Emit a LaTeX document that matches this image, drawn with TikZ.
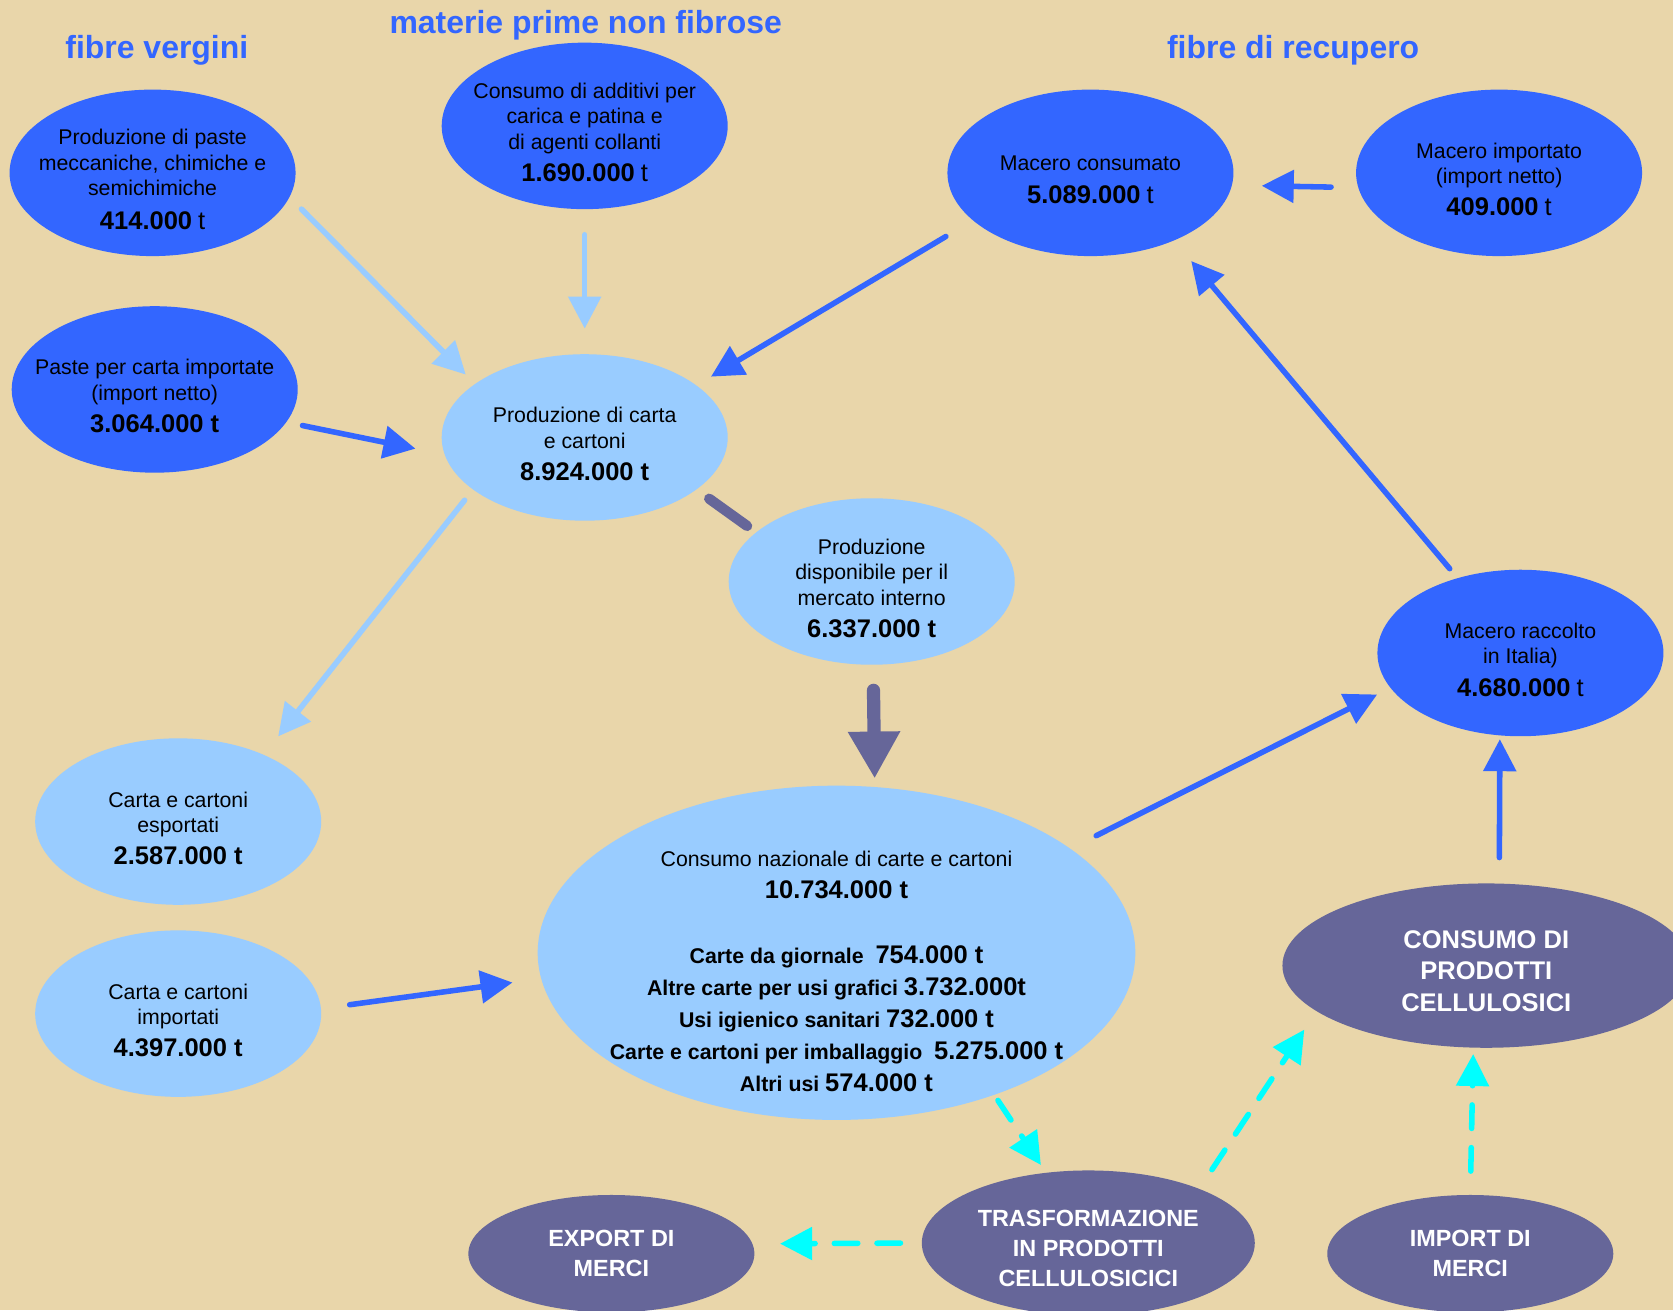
\documentclass[tikz,border=0pt]{standalone}
\usepackage{fontspec}
\setmainfont{Liberation Sans}
\usetikzlibrary{shapes.geometric,arrows.meta}

\definecolor{deepblue}{HTML}{3366FF}
\definecolor{paleblue}{HTML}{99CCFF}
\definecolor{greyviolet}{HTML}{666699}
\definecolor{aquacyan}{HTML}{00FFFF}
\definecolor{parchment}{HTML}{E9D6AA}

\newcommand{\amount}[1]{{\fontsize{17}{20}\selectfont\bfseries #1}}
\newcommand{\tons}{{\fontsize{17}{20}\selectfont t}}
\newcommand{\lowerstrut}{\rule{0pt}{0.67cm}}

\begin{document}
\begin{tikzpicture}[x=0.025cm,y=-0.025cm]
\tikzset{
base node/.style={ellipse,inner sep=-2cm,outer sep=0pt,align=center,minimum width=6.7cm,minimum height=3.9cm,font=\fontsize{14.2}{17}\selectfont},
dark node/.style={base node,fill=deepblue},
light node/.style={base node,fill=paleblue},
violet node/.style={base node,fill=greyviolet,text=white,font=\fontsize{15.6}{19.9}\selectfont\bfseries},
title text/.style={text=deepblue,font=\fontsize{21.3}{25}\selectfont\bfseries},
thin arrow/.style={line width=0.13cm,line cap=round,-{Triangle[length=0.75cm,width=0.75cm]}},
light arrow/.style={thin arrow,paleblue},
dark arrow/.style={thin arrow,deepblue},
dashed arrow/.style={thin arrow,aquacyan,dash pattern=on 0.55cm off 0.45cm},
big arrow/.style={line width=0.31cm,line cap=round,greyviolet,-{Triangle[length=1.1cm,width=1.15cm]}},
bar line/.style={line width=0.24cm,line cap=round,greyviolet}
}

\useasboundingbox (0,0) rectangle (1568,1228);
\clip (0,0) rectangle (1568,1228);
\fill[parchment] (0,0) rectangle (1568,1228);

% titles
\node[title text] (vergini) at (147,47) {fibre vergini};
\node[title text] (nonfibrose) at (549,24) {materie prime non fibrose};
\node[title text] (recupero) at (1212,47) {fibre di recupero};

% fibre vergini and additives
\node[dark node] (paste) at (143,162) {\lowerstrut Produzione di paste\\meccaniche, chimiche e\\semichimiche\\[0.18cm]\amount{414.000} \tons};
\node[dark node] (additivi) at (548,118) {\lowerstrut Consumo di additivi per\\carica e patina e\\di agenti collanti\\[0.16cm]\amount{1.690.000} \tons};
\node[dark node] (importpaste) at (145,365) {\lowerstrut Paste per carta importate\\(import netto)\\[0.15cm]\amount{3.064.000 t}};
\node[light node] (carta) at (548,410) {\lowerstrut Produzione di carta\\e cartoni\\[0.16cm]\amount{8.924.000 t}};

% recovered fibres
\node[dark node] (maceroc) at (1022,162) {\lowerstrut Macero consumato\\[0.16cm]\amount{5.089.000} \tons};
\node[dark node] (maceroi) at (1405,162) {\lowerstrut Macero importato\\(import netto)\\[0.15cm]\amount{409.000} \tons};
\node[dark node] (maceror) at (1425,612) {\lowerstrut Macero raccolto\\in Italia)\\[0.16cm]\amount{4.680.000} \tons};

\node[light node] (disponibile) at (817,545) {\lowerstrut Produzione\\disponibile per il\\mercato interno\\[0.15cm]\amount{6.337.000 t}};
\node[light node] (esportati) at (167,770) {\lowerstrut Carta e cartoni\\esportati\\[0.15cm]\amount{2.587.000 t}};
\node[light node] (importati) at (167,950) {\lowerstrut Carta e cartoni\\importati\\[0.15cm]\amount{4.397.000 t}};

\node[light node,minimum width=14cm,minimum height=7.83cm,font=\fontsize{14.2}{21.3}\selectfont] (consumo) at (784,893)
  {\rule{0pt}{1.22cm}Consumo nazionale di carte e cartoni\\\amount{10.734.000 t}\\[0.78cm]
   \textbf{Carte da giornale}~ \amount{754.000 t}\\
   \textbf{Altre carte per usi grafici} \amount{3.732.000t}\\
   \textbf{Usi igienico sanitari} \amount{732.000 t}\\
   \textbf{Carte e cartoni per imballaggio}~ \amount{5.275.000 t}\\
   \textbf{Altri usi} \amount{574.000 t}};

% goods
\node[violet node,minimum width=9.55cm,minimum height=3.85cm,font=\fontsize{17}{21.3}\selectfont\bfseries] (prodotti) at (1393,905) {\rule{0pt}{0.68cm}CONSUMO DI\\PRODOTTI\\CELLULOSICI};
\node[violet node,minimum width=7.8cm,minimum height=3.4cm] (trasf) at (1020,1165) {\rule{0pt}{0.64cm}TRASFORMAZIONE\\IN PRODOTTI\\CELLULOSICICI};
\node[violet node,minimum height=2.75cm] (exportm) at (573,1175) {EXPORT DI\\MERCI};
\node[violet node,minimum height=2.75cm] (importm) at (1378,1175) {IMPORT DI\\MERCI};

% flows
\draw[light arrow,shorten <=0.4cm,shorten >=0.31cm] (paste.-10.8) -- (carta.154.8);
\draw[light arrow,shorten <=0.6cm,shorten >=0.6cm] (additivi.south) -- (carta.north);
\draw[dark arrow,shorten <=0.39cm,shorten >=0.7cm] (importpaste.-14.9) -- (carta.187.6);
\draw[dark arrow,shorten <=0.74cm,shorten >=0.4cm] (maceroc.-158.2) -- (carta.25.8);
\draw[dark arrow,shorten <=0.64cm,shorten >=0.7cm] (maceroi.-174.4) -- (maceroc.-5.6);
\draw[dark arrow,shorten <=0.29cm,shorten >=0.63cm] (maceror.130.2) -- (maceroc.-39.7);
\draw[light arrow,shorten <=0.32cm,shorten >=0.55cm] (carta.-155) -- (esportati.38.4);
\draw[bar line,shorten <=0.37cm,shorten >=0.26cm] (carta.-25.3) -- (disponibile.157.8);
\draw[big arrow,shorten <=0.6cm,shorten >=0.2cm] (disponibile.-89) -- (consumo.77);
\draw[dark arrow,shorten <=0.68cm,shorten >=0.35cm] (consumo.24.9) -- (maceror.-165.4);
\draw[dark arrow,shorten <=0.68cm,shorten >=0.68cm] (importati.2.8) -- (consumo.-175.6);
\draw[dark arrow,shorten <=0.61cm,shorten >=0.09cm] (prodotti.81.1) -- (maceror.-104.6);
\draw[dashed arrow,shorten <=0.16cm,shorten >=0.22cm] (consumo.-42.5) -- (trasf.121.3);
\draw[dashed arrow,shorten <=0.54cm,shorten >=0.52cm] (trasf.26.6) -- (prodotti.-165.1);
\draw[dashed arrow,shorten <=0.56cm,shorten >=0.15cm] (importm.north) -- (prodotti.-99.6);
\draw[dashed arrow,shorten <=0.5cm,shorten >=0.65cm] (trasf.west) -- (exportm.4.8);
\end{tikzpicture}
\end{document}
